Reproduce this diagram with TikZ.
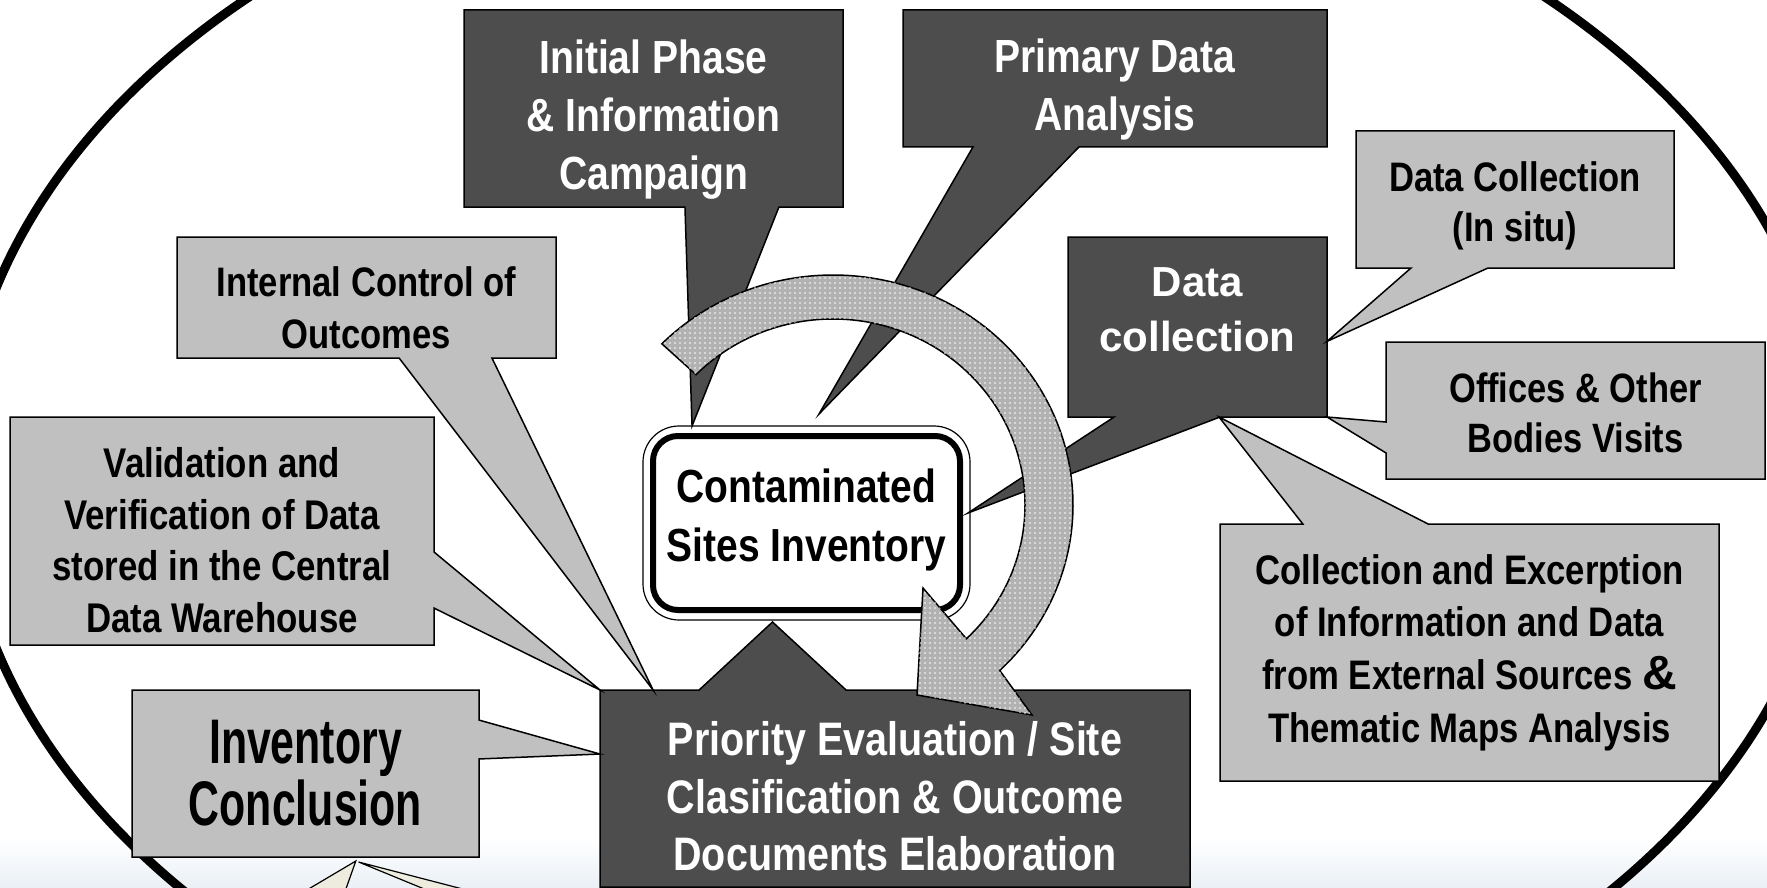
\documentclass[tikz,border=0pt]{standalone}
\usepackage{fontspec}
\setmainfont{Liberation Sans}[FakeStretch=0.84]
\newfontfamily\widefont{Liberation Sans}
\newfontfamily\tallfont{Liberation Sans}[FakeStretch=0.68]
\usetikzlibrary{calc,fit,backgrounds,patterns.meta}
\definecolor{darkbox}{RGB}{77,77,77}
\definecolor{lightbox}{RGB}{192,192,192}
\definecolor{creamtail}{RGB}{238,236,222}
\definecolor{floorblue}{RGB}{234,240,246}
\newcommand{\sz}[2]{\fontsize{#1}{#2}\selectfont\bfseries}

\begin{document}
\begin{tikzpicture}[x=1pt, y=-1pt, %%% y runs downwards, one unit = one pixel of the 1767x888 frame
    frame/.style={inner sep=0pt, outer sep=0pt},
    txt/.style={align=center, inner sep=0pt, outer sep=0pt},
    darktxt/.style={txt, text=white},
    lighttxt/.style={txt, text=black},
    darkcall/.style={draw=black, fill=darkbox, line width=1.5pt},
    lightcall/.style={draw=black, fill=lightbox, line width=1.5pt},
    creamcall/.style={draw=black, fill=creamtail, line width=1.2pt},
    cycarrow/.style={draw=black, line width=1.5pt, fill=black!30,
        postaction={pattern={Dots[distance=5pt,radius=0.8pt]}, pattern color=white}}]
  \useasboundingbox (0,0) rectangle (1767,888);

  %%% box frames (outlines are drawn behind, on the background layer)
  \node[frame, minimum width=379pt, minimum height=197pt] (ip)  at (653.5,108.5) {};
  \node[frame, minimum width=424pt, minimum height=137pt] (pd)  at (1115,78.5) {};
  \node[frame, minimum width=379pt, minimum height=121pt] (ic)  at (366.5,297.5) {};
  \node[frame, minimum width=424pt, minimum height=228pt] (vv)  at (222,531) {};
  \node[frame, minimum width=347pt, minimum height=167pt] (inv) at (305.5,773.5) {};
  \node[frame, minimum width=590pt, minimum height=197pt] (pe)  at (895,788.5) {};
  \node[frame, minimum width=259pt, minimum height=180pt] (dc)  at (1197.5,327) {};
  \node[frame, minimum width=318pt, minimum height=137pt] (ins) at (1515,199.5) {};
  \node[frame, minimum width=379pt, minimum height=137pt] (off) at (1575.5,410.5) {};
  \node[frame, minimum width=499pt, minimum height=257pt] (ce)  at (1469.5,652.5) {};

  %%% texts
  \node[darktxt, font=\sz{46.5}{58}] (iptext) at ($(ip)+(0,11)$) {Initial Phase\\\& Information\\Campaign};
  \node[darktxt, font=\sz{46.5}{58}] (pdtext) at ($(pd)+(0,11)$) {Primary Data\\Analysis};
  \node[lighttxt, font=\sz{41.2}{52}] (ictext) at ($(ic)+(0,10)$) {Internal Control of\\Outcomes};
  \node[lighttxt, font=\sz{41.5}{51.5}] (vvtext) at ($(vv)+(0,9)$) {Validation and\\Verification of Data\\stored in the Central\\Data Warehouse};
  \node[lighttxt, font=\tallfont\sz{63}{62}] (invtext) at (inv) {Inventory\\Conclusion};
  \node[darktxt, font=\sz{47}{57.5}] (petext) at ($(pe)+(0,8)$) {Priority Evaluation / Site\\Clasification \& Outcome\\Documents Elaboration};
  \node[darktxt, font=\widefont\sz{42}{55}] (dctext) at ($(dc)+(0,-17)$) {Data\\collection};
  \node[lighttxt, font=\sz{41.2}{50}] (instext) at ($(ins)+(0,6)$) {Data Collection\\(In situ)};
  \node[lighttxt, font=\sz{41}{50}] (offtext) at ($(off)+(0,2)$) {Offices \& Other\\Bodies Visits};
  \node[lighttxt, font=\sz{41.3}{52.6}] (cetext) at (ce) {Collection and Excerption\\of Information and Data\\from External Sources {\widefont\sz{48}{52.6}\&}\\Thematic Maps Analysis};

  %%% central box, thick line with a thin one round it
  \node[frame, draw=black, fill=white, line width=6pt, rounded corners=25pt, minimum width=307pt, minimum height=174pt] (cs) at (806.5,523) {};
  \node[draw=black, line width=1.2pt, rounded corners=36pt, inner sep=10pt, outer sep=0pt, fit=(cs)] (csout) {};
  \node[txt, font=\sz{46.4}{59}] (cstext) at ($(cs)+(0,-3)$) {Contaminated\\Sites Inventory};

  \coordinate (pdtip) at (819,414);
  \coordinate (foota) at (290,900);
  \coordinate (footb) at (342,900);
  \coordinate (footc) at (451,900);
  \coordinate (footd) at (505,900);

  \begin{scope}[on background layer]
    \shade[top color=white, bottom color=floorblue] (0,838) rectangle (1767,888);
    \draw[line width=9pt] (897,468) ellipse [x radius=937, y radius=652];

    %%% callouts: box outline with its tail
    \draw[darkcall] (ip.north west) -- (ip.north east) -- (ip.south east)
      -- ($(ip.south west)!.831!(ip.south east)$) -- ($(csout.north west)!.15!(csout.north east)$)
      -- ($(ip.south west)!.583!(ip.south east)$) -- (ip.south west) -- cycle;
    \draw[darkcall] (pd.north west) -- (pd.north east) -- (pd.south east)
      -- ($(pd.south west)!.415!(pd.south east)$) -- (pdtip)
      -- ($(pd.south west)!.165!(pd.south east)$) -- (pd.south west) -- cycle;
    \draw[darkcall] (pe.north west) -- ($(pe.north west)!.168!(pe.north east)$)
      -- ($(cs.south)+(-34,12)$) -- ($(pe.north west)!.417!(pe.north east)$)
      -- (pe.north east) -- (pe.south east) -- (pe.south west) -- cycle;
    \draw[lightcall] (vv.north west) -- (vv.north east) -- ($(vv.north east)!.592!(vv.south east)$)
      -- (pe.north west) -- ($(vv.north east)!.838!(vv.south east)$)
      -- (vv.south east) -- (vv.south west) -- cycle;
    \draw[lightcall] (ic.north west) -- (ic.north east) -- (ic.south east)
      -- ($(ic.south west)!.831!(ic.south east)$) -- ($(pe.north west)!.09!(pe.north east)$)
      -- ($(ic.south west)!.586!(ic.south east)$) -- (ic.south west) -- cycle;
    \draw[lightcall] (inv.north west) -- (inv.north east) -- ($(inv.north east)!.18!(inv.south east)$)
      -- ($(pe.north west)!.325!(pe.south west)$) -- ($(inv.north east)!.413!(inv.south east)$)
      -- (inv.south east) -- (inv.south west) -- cycle;
    \draw[darkcall] (dc.north west) -- (dc.north east) -- (dc.south east)
      -- ($(dc.south west)!.587!(dc.south east)$) -- ($(csout.east)+(-2,-10)$)
      -- ($(dc.south west)!.178!(dc.south east)$) -- (dc.south west) -- cycle;
    \draw[lightcall] (ins.north west) -- (ins.north east) -- (ins.south east)
      -- ($(ins.south west)!.415!(ins.south east)$) -- ($(dc.north east)!.58!(dc.south east)$)
      -- ($(ins.south west)!.173!(ins.south east)$) -- (ins.south west) -- cycle;
    \draw[lightcall] (off.north west) -- (off.north east) -- (off.south east) -- (off.south west)
      -- ($(off.north west)!.81!(off.south west)$) -- (dc.south east)
      -- ($(off.north west)!.584!(off.south west)$) -- cycle;
    \draw[lightcall] (ce.north west) -- ($(ce.north west)!.166!(ce.north east)$)
      -- ($(dc.south west)!.583!(dc.south east)$) -- ($(ce.north west)!.417!(ce.north east)$)
      -- (ce.north east) -- (ce.south east) -- (ce.south west) -- cycle;

    %%% tails of the callouts below the frame
    \draw[creamcall] (foota) -- ($(inv.south west)!.645!(inv.south east)+(0,4)$) -- (footb) -- cycle;
    \draw[creamcall] (footc) -- ($(inv.south west)!.653!(inv.south east)+(0,5)$) -- (footd) -- cycle;
  \end{scope}

  %%% round arrow over everything
  \coordinate (ac) at (833,505);
  \draw[cycarrow] ($(ac)+(-135.5:240 and 230)$) arc[start angle=-135.5, end angle=46, x radius=240, y radius=230]
    -- ($(ac)+(199,210)$) -- ($(ac)+(84,190)$) -- ($(ac)+(90,83)$)
    -- ($(ac)+(46:192 and 186)$) arc[start angle=46, end angle=-135.5, x radius=192, y radius=186] -- cycle;
\end{tikzpicture}
\end{document}
